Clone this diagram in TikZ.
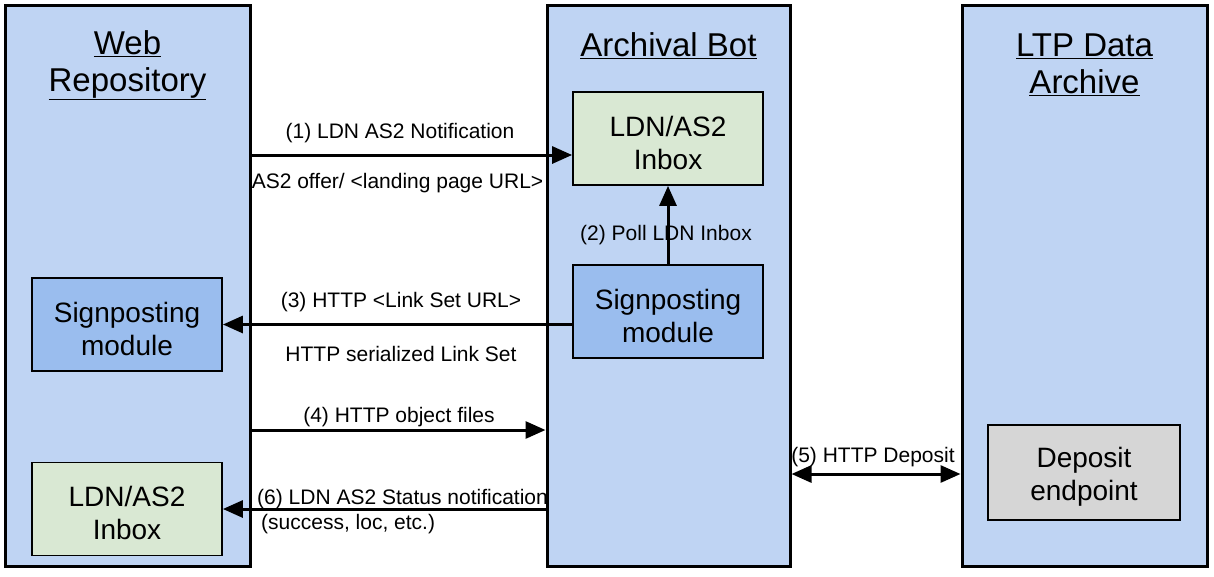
\documentclass[tikz,border=0pt]{standalone}
\usepackage{fontspec}
\setmainfont{Liberation Sans}
\usetikzlibrary{arrows.meta}
\definecolor{colblue}{HTML}{BFD4F3}
\definecolor{inboxgreen}{HTML}{D9E8D3}
\definecolor{signblue}{HTML}{9ABDEE}
\definecolor{depgray}{HTML}{D6D6D6}
\newcommand{\lowr}{\rule{0pt}{29pt}}
\tikzset{
  column/.style={draw=black, line width=3pt, fill=colblue, minimum width=#1, minimum height=561pt, inner sep=0pt},
  inner/.style={draw=black, line width=1.8pt, fill=#1, minimum width=190pt, minimum height=93pt, inner sep=0pt, align=center, font=\fontsize{28}{33}\selectfont},
  title/.style={align=center, inner sep=0pt, font=\fontsize{33}{37}\selectfont},
  lbl/.style={inner sep=0pt, font=\fontsize{21}{25}\selectfont},
  arr/.style={line width=3pt, -{Triangle[length=20pt,width=17pt]}},
  darr/.style={line width=3pt, {Triangle[length=20pt,width=17pt]}-{Triangle[length=20pt,width=17pt]}}
}
\begin{document}
\begin{tikzpicture}[x=1pt,y=-1pt]
\useasboundingbox (0,0) rectangle (1214,576);
% columns
\node[column=245pt] (wr) at (127.5,285.5) {};
\node[column=243pt] (ab) at (668.5,285.5) {};
\node[column=245pt] (la) at (1084.5,285.5) {};
% titles
\node[title] (wrt) at (127.5,65) {\underline{Web}\\\underline{Repository}};
\node[title] (abt) at (668.5,46) {\underline{Archival Bot}};
\node[title] (lat) at (1084.5,65) {\underline{LTP Data}\\\underline{Archive}};
% inner boxes
\node[inner=inboxgreen] (binbox) at (668,138.5) {\lowr LDN/AS2\\Inbox};
\node[inner=signblue] (bsign) at (668,311.5) {\lowr Signposting\\module};
\node[inner=signblue] (wsign) at (127,324.5) {\lowr Signposting\\module};
\node[inner=inboxgreen] (winbox) at (127,509) {\lowr LDN/AS2\\Inbox};
\node[inner=depgray, minimum width=192pt, minimum height=95pt] (dep) at (1084,472.5) {\lowr Deposit\\endpoint};
% connectors
\path ([yshift=-16.5pt]binbox.west) coordinate (p1);
\draw[arr] (wr.east |- p1) -- (p1);
\draw[arr] (bsign.north) -- (binbox.south);
\draw[arr] (bsign.west |- wsign.east) -- (wsign.east);
\draw[arr] ([yshift=-144.5pt]wr.east) -- ([yshift=-144.5pt]ab.west);
\draw[darr] ([yshift=-188.5pt]ab.east) -- ([yshift=-188.5pt]la.west);
\draw[arr] (ab.west |- winbox.east) -- (winbox.east);
% labels
\node[lbl] (l1a) at (400,133) {(1) LDN AS2 Notification};
\node[lbl] (l1b) at (397.5,183) {AS2 offer/ <landing page URL>};
\node[lbl] (l2) at (666,235) {(2) Poll LDN Inbox};
\node[lbl] (l3a) at (401,302) {(3) HTTP <Link Set URL>};
\node[lbl] (l3b) at (401,354) {HTTP serialized Link Set};
\node[lbl] (l4) at (399,417) {(4) HTTP object files};
\node[lbl] (l5) at (873,457) {(5) HTTP Deposit};
\node[lbl, anchor=west] (l6a) at (257,499) {(6) LDN AS2 Status notification};
\node[lbl, anchor=west] (l6b) at (261,524) {(success, loc, etc.)};
\end{tikzpicture}
\end{document}
